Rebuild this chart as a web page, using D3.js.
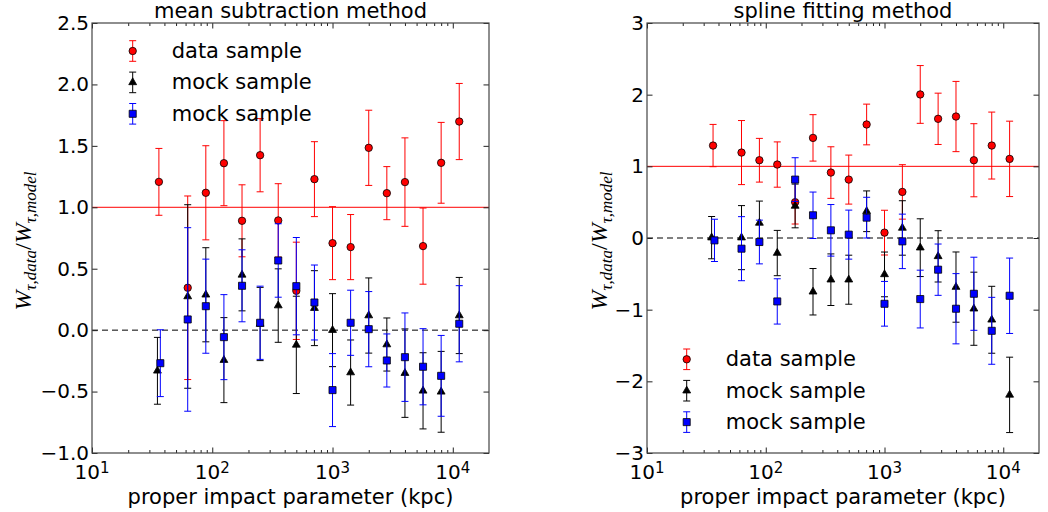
<!DOCTYPE html>
<html>
<head>
<meta charset="utf-8">
<script src="https://cdn.jsdelivr.net/npm/d3@7"></script>
<style>
  body { margin: 0; background: #fff; }
  svg { display: block; font-family: "DejaVu Sans", sans-serif; }
</style>
</head>
<body>
<script>
// impact parameter bins (kpc); first bin is offset slightly per series
var xData = [36, 62.5, 88.4, 125, 176.8, 250, 353.6, 500, 707.1, 1000, 1414, 2000, 2828, 4000, 5657, 8000, 11314];
var xTri  = [35, 62.5, 88.4, 125, 176.8, 250, 353.6, 500, 707.1, 1000, 1414, 2000, 2828, 4000, 5657, 8000, 11314];
var xSq   = [37, 62.5, 88.4, 125, 176.8, 250, 353.6, 500, 707.1, 1000, 1414, 2000, 2828, 4000, 5657, 8000, 11314];

// mean subtraction method
var meanData = [1.207, 0.345, 1.118, 1.359, 0.89, 1.424, 0.893, 0.32, 1.229, 0.708, 0.676, 1.484, 1.115, 1.205, 0.684, 1.362, 1.698];
var meanTri  = [-0.331, 0.274, 0.288, -0.244, 0.45, 0.05, 0.20, -0.12, 0.179, 0.0, -0.345, 0.119, -0.117, -0.35, -0.494, -0.502, 0.119];
var meanSq   = [-0.269, 0.087, 0.195, -0.057, 0.361, 0.06, 0.567, 0.358, 0.225, -0.488, 0.06, 0.008, -0.247, -0.22, -0.298, -0.372, 0.052];
var meanErr  = [0.272, 0.747, 0.383, 0.346, 0.293, 0.298, 0.299, 0.396, 0.305, 0.297, 0.265, 0.306, 0.216, 0.36, 0.31, 0.329, 0.31];

// spline fitting method
var splineData = [1.29, 1.192, 1.085, 1.025, 0.5, 1.397, 0.913, 0.815, 1.584, 0.075, 0.643, 2.003, 1.663, 1.695, 1.085, 1.29, 1.104];
var splineTri  = [0.005, 0.005, 0.21, -0.21, 0.447, -0.75, -0.582, -0.582, 0.373, -0.508, 0.14, -0.135, -0.256, -0.685, -0.987, -1.141, -2.189];
var splineSq   = [-0.033, -0.149, -0.056, -0.885, 0.815, 0.317, 0.107, 0.047, 0.284, -0.918, -0.047, -0.852, -0.442, -0.987, -0.778, -1.295, -0.806];
var splineErr  = [0.295, 0.447, 0.305, 0.316, 0.305, 0.324, 0.36, 0.342, 0.284, 0.312, 0.38, 0.403, 0.358, 0.49, 0.51, 0.467, 0.526];

// ticks
var xMajor = [10, 100, 1000, 10000];
var meanYTicks = [-1.0, -0.5, 0.0, 0.5, 1.0, 1.5, 2.0, 2.5];
var splineYTicks = [-3, -2, -1, 0, 1, 2, 3];
var legendLabels = ["data sample", "mock sample", "mock sample"];

var svg = d3.select("body").append("svg")
  .attr("width", 1048)
  .attr("height", 512);

var triangle = d3.symbol().type(d3.symbolTriangle).size(27);
var square = d3.symbol().type(d3.symbolSquare).size(50);

function marker(g, shape, color, cx, cy) {
  if (shape == "circle") {
    g.append("circle").attr("cx", cx).attr("cy", cy).attr("r", 3.7)
      .attr("fill", color).attr("stroke", "#000").attr("stroke-width", 0.8);
  } else {
    g.append("path").attr("d", shape == "tri" ? triangle() : square())
      .attr("transform", "translate(" + cx + "," + cy + ")")
      .attr("fill", color).attr("stroke", "#000").attr("stroke-width", 0.8);
  }
}

function errbar(g, color, cx, y0, y1) {
  g.append("line").attr("x1", cx).attr("x2", cx).attr("y1", y0).attr("y2", y1)
    .attr("stroke", color).attr("stroke-width", 1);
  [y0, y1].forEach(function(yy) {
    g.append("line").attr("x1", cx - 3.5).attr("x2", cx + 3.5).attr("y1", yy).attr("y2", yy)
      .attr("stroke", color).attr("stroke-width", 1);
  });
}

function drawPanel(p) {
  var g = svg.append("g").attr("transform", "translate(" + p.left + "," + p.top + ")");
  var w = p.width, h = p.height;

  var x = d3.scaleLog().domain([10, 20000]).range([0, w]);
  var y = d3.scaleLinear().domain(p.yDomain).range([h, 0]);

  var minor = x.ticks().filter(function(d) { return xMajor.indexOf(d) < 0 && d < 20000; });

  // reference lines
  g.append("line").attr("x1", 0).attr("x2", w).attr("y1", y(1)).attr("y2", y(1))
    .attr("stroke", "#ff0000").attr("stroke-width", 1);
  g.append("line").attr("x1", 0).attr("x2", w).attr("y1", y(0)).attr("y2", y(0))
    .attr("stroke", "#000").attr("stroke-width", 1).attr("stroke-dasharray", "6,4");

  // series
  var series = [
    {xs: xData, ys: p.data, color: "#ff0000", shape: "circle"},
    {xs: xTri, ys: p.tri, color: "#000000", shape: "tri"},
    {xs: xSq, ys: p.sq, color: "#0000ff", shape: "sq"}
  ];
  series.forEach(function(s) {
    var sg = g.append("g");
    s.ys.forEach(function(v, i) {
      errbar(sg, s.color, x(s.xs[i]), y(v - p.err[i]), y(v + p.err[i]));
    });
    s.ys.forEach(function(v, i) {
      marker(sg, s.shape, s.color, x(s.xs[i]), y(v));
    });
  });

  // axes: ticks point inward
  var bottom = g.append("g").attr("transform", "translate(0," + h + ")");
  bottom.append("g").call(d3.axisBottom(x).tickValues(xMajor).tickSize(-5.5).tickFormat(""));
  bottom.append("g").call(d3.axisBottom(x).tickValues(minor).tickSize(-3).tickFormat(""));
  var top = g.append("g");
  top.append("g").call(d3.axisTop(x).tickValues(xMajor).tickSize(-5.5).tickFormat(""));
  top.append("g").call(d3.axisTop(x).tickValues(minor).tickSize(-3).tickFormat(""));
  var left = g.append("g").call(d3.axisLeft(y).tickValues(p.yTicks).tickSize(-5.5).tickPadding(3).tickFormat(p.yFmt));
  g.append("g").attr("transform", "translate(" + w + ",0)")
    .call(d3.axisRight(y).tickValues(p.yTicks).tickSize(-5.5).tickFormat(""));
  g.selectAll(".domain").remove();
  g.selectAll(".tick line").attr("stroke", "#222").attr("stroke-width", 1);
  left.selectAll("text").attr("font-size", 20).attr("font-family", "DejaVu Sans").attr("fill", "#000");

  g.append("rect").attr("width", w).attr("height", h)
    .attr("fill", "none").attr("stroke", "#444").attr("stroke-width", 1.2);

  // x tick labels 10^n
  xMajor.forEach(function(v) {
    var t = g.append("text").attr("x", x(v)).attr("y", h + 25.5)
      .attr("text-anchor", "middle").attr("font-size", 20);
    t.append("tspan").text("10");
    t.append("tspan").attr("dy", -6).attr("font-size", 15).text(Math.round(Math.log10(v)));
  });

  // titles
  g.append("text").attr("x", w / 2).attr("y", -5.5).attr("text-anchor", "middle")
    .attr("font-size", 21).text(p.title);
  g.append("text").attr("x", w / 2).attr("y", h + 50.5).attr("text-anchor", "middle")
    .attr("font-size", 21).text("proper impact parameter (kpc)");

  var yl = svg.append("text")
    .attr("transform", "translate(" + p.ylabelX + "," + (p.top + h / 2 + 3) + ") rotate(-90)")
    .attr("text-anchor", "middle")
    .attr("font-family", "Liberation Serif, serif").attr("font-style", "italic")
    .attr("font-size", 24);
  yl.append("tspan").text("W");
  yl.append("tspan").attr("dy", 5).attr("font-size", 17).text("τ,data");
  yl.append("tspan").attr("dy", -5).attr("font-style", "normal").text("/");
  yl.append("tspan").text("W");
  yl.append("tspan").attr("dy", 5).attr("font-size", 17).text("τ,model");

  // legend
  var colors = ["#ff0000", "#000000", "#0000ff"];
  var shapes = ["circle", "tri", "sq"];
  legendLabels.forEach(function(lab, i) {
    var cy = p.legY + i * 31.4;
    var lg = g.append("g");
    errbar(lg, colors[i], p.legX, cy - 10.3, cy + 10.3);
    marker(lg, shapes[i], colors[i], p.legX, cy);
    lg.append("text").attr("x", p.legTextX).attr("y", cy + 7).attr("font-size", 21).text(lab);
  });
}

drawPanel({
  left: 92, top: 23, width: 397, height: 430,
  yDomain: [-1, 2.5], yTicks: meanYTicks, yFmt: d3.format(".1f"),
  data: meanData, tri: meanTri, sq: meanSq, err: meanErr,
  title: "mean subtraction method",
  ylabelX: 31,
  legX: 40.7, legY: 28, legTextX: 79.7
});

drawPanel({
  left: 647, top: 23, width: 392, height: 430,
  yDomain: [-3, 3], yTicks: splineYTicks, yFmt: d3.format("d"),
  data: splineData, tri: splineTri, sq: splineSq, err: splineErr,
  title: "spline fitting method",
  ylabelX: 607,
  legX: 39.7, legY: 336.3, legTextX: 78.7
});
</script>
</body>
</html>
